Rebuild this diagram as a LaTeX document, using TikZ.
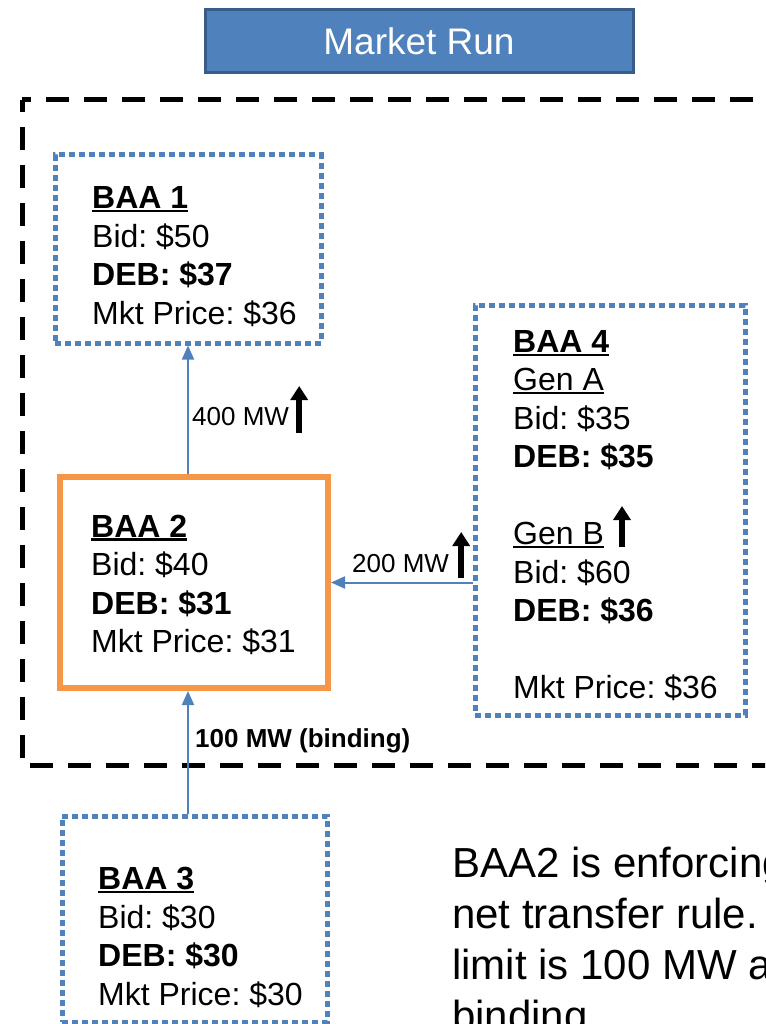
\documentclass[tikz,border=0pt]{standalone}
\usepackage{fontspec}
\setmainfont{Liberation Sans}
\usetikzlibrary{arrows.meta,positioning,calc}

\definecolor{baablue}{HTML}{4F81BD}
\definecolor{runedge}{HTML}{385D8A}
\definecolor{baaorange}{HTML}{F79646}

\newcommand{\baaul}[1]{\setbox0=\hbox{#1}\rlap{\rule[-3.5pt]{\wd0}{2.2pt}}\box0}
\frenchspacing

\begin{document}
\begin{tikzpicture}[x=1pt,y=-1pt,
    runbox/.style={fill=baablue,draw=runedge,line width=3pt,text=white,inner sep=0pt,font={\fontsize{37}{40}\selectfont}},
    area/.style={draw=baablue,line width=5pt,dash pattern=on 6pt off 4pt,inner sep=0pt},
    hub/.style={draw=baaorange,line width=6pt,inner sep=0pt},
    baatext/.style={anchor=north west,inner sep=0pt,align=left,font={\fontsize{32}{38.5}\selectfont}},
    flow/.style={baablue,line width=2pt,-{Triangle[length=14pt,width=12pt]}},
    rise/.style={black,line width=5.5pt,-{Triangle[length=14pt,width=17pt]}},
    flowlbl/.style={anchor=base west,inner sep=0pt,font={\fontsize{26}{30}\selectfont}},
    boundary/.style={black,line width=5pt,dash pattern=on 23pt off 15pt,dash phase=11pt},
    note/.style={anchor=north west,inner sep=0pt,align=left,font={\fontsize{42}{51}\selectfont}}
]
\useasboundingbox (0,0) rectangle (765,1024);
\clip (0,0) rectangle (765,1024);

\node[runbox,minimum width=428pt,minimum height=63pt] (run) at (419,41.5) {Market Run};

% market footprint
\draw[boundary] (22,100) rectangle (800,765);

% balancing areas
\node[area,minimum width=266pt,minimum height=188pt] (baa1) at (188,249) {};
\node[hub,minimum width=268pt,minimum height=211pt] (baa2) at (194,582.5) {};
\node[area,minimum width=270pt,minimum height=410pt] (baa4) at (610,510) {};
\node[area,minimum width=265pt,minimum height=206pt] (baa3) at (194.5,919) {};

\node[baatext] (baa1txt) at (92,186.5) {\baaul{\textbf{BAA 1}}\\ Bid: \$50\\ \textbf{DEB: \$37}\\ Mkt Price: \$36};
\node[baatext] (baa2txt) at (91,514.5) {\baaul{\textbf{BAA 2}}\\ Bid: \$40\\ \textbf{DEB: \$31}\\ Mkt Price: \$31};
\node[baatext] (baa4txt) at (513,330) {\baaul{\textbf{BAA 4}}\\ \baaul{Gen A}\\ Bid: \$35\\ \textbf{DEB: \$35}\\[38.5pt] \baaul{Gen B}\\ Bid: \$60\\ \textbf{DEB: \$36}\\[38.5pt] Mkt Price: \$36};
\node[baatext] (baa3txt) at (98,867) {\baaul{\textbf{BAA 3}}\\ Bid: \$30\\ \textbf{DEB: \$30}\\ Mkt Price: \$30};

% transfers
\draw[flow] (baa2.north -| baa1.south) -- (baa1.south);
\draw[flow] (baa4.west |- baa2.east) -- (baa2.east);
\draw[flow] (baa3.north -| baa1.south) -- (baa2.south -| baa1.south);

\node[flowlbl] (f400) at (192,425) {400 MW};
\node[flowlbl] (f200) at (352,572) {200 MW};
\node[flowlbl] (f100) at (195,747) {\textbf{100 MW (binding)}};

\draw[rise] ([xshift=10pt,yshift=-8pt]f400.base east) -- ++(0,-47);
\draw[rise] ([xshift=12pt,yshift=-6pt]f200.base east) -- ++(0,-46);
\coordinate (genb) at (622,547);
\draw[rise] (genb) -- ++(0,-41);

\node[note] (rule) at (452,847) {BAA2 is enforcing\\net transfer rule.\\limit is 100 MW and\\binding.};
\end{tikzpicture}
\end{document}
